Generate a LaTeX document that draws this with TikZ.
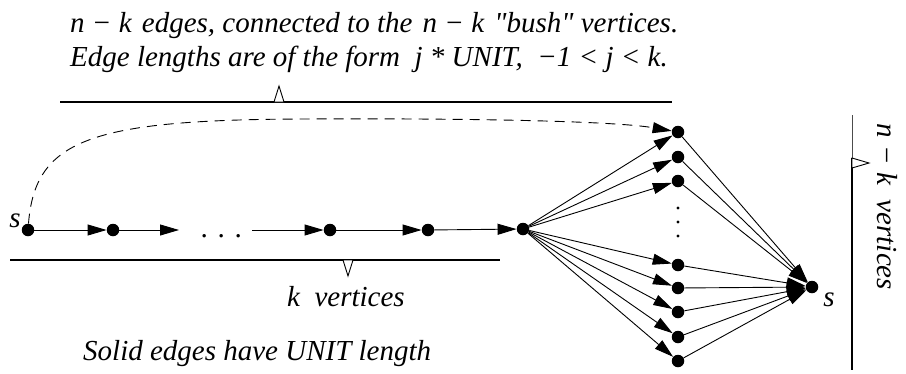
\documentclass[tikz,border=0pt]{standalone}
\usepackage{fontspec}
\setmainfont{Liberation Serif}[Ligatures=TeXOff]
\usetikzlibrary{arrows.meta}
\begin{document}
\begin{tikzpicture}[x=1pt,y=-1pt,
  vtx/.style={circle,fill=black,inner sep=0pt,minimum size=12.5pt},
  arr/.style={line width=0.9pt,-{Triangle[length=19pt,width=11pt]}},
  lbl/.style={font=\fontsize{29}{33}\selectfont\itshape,inner sep=0pt},
  bar/.style={line width=1.1pt},
  tri/.style={line width=0.9pt,fill=white,line join=miter}]
\useasboundingbox (0,0) rectangle (906,373);

% texts
\node[lbl,anchor=base west] (t1) at (70,32) {n − k\hspace{3pt} edges, connected to the\hspace{3pt} n − k\hspace{3pt} "bush" vertices.};
\node[lbl,anchor=base west] (t2) at (70,66) {Edge lengths are of the form\ \ j * UNIT,\ \ −1 < j < k.};
\node[lbl,anchor=base west] (kv) at (287,306) {k\ \ vertices};
\node[lbl,anchor=base west] (sol) at (83,360) {Solid edges have UNIT length};
\node[lbl,rotate=-90] (nkv) at (887,207) {n − k\ \ vertices};

% brackets
\draw[bar] (60,102) -- (672,102);
\draw[tri] (274,102) -- (279,86) -- (284,102) -- cycle;
\draw[bar] (10,260) -- (500,260);
\draw[tri] (343,260) -- (348,276) -- (353,260) -- cycle;
\draw[line width=0.8pt,black!70] (852,115) -- (852,158);
\draw[line width=1.6pt] (852,158) -- (852,370);
\draw[tri] (852,158) -- (869,163) -- (852,168) -- cycle;

% chain
\node[vtx] (s0) at (28,230) {};
\node[lbl] (sl) at (15,221) {s};
\node[vtx] (c1) at (113,230) {};
\coordinate (c1e) at (179,230);
\node[lbl,anchor=base] (dots) at (222,237) {. . .};
\coordinate (c3s) at (252,230);
\node[vtx] (c3) at (330,230) {};
\node[vtx] (c4) at (428,230) {};
\node[vtx] (c5) at (523,229) {};

\draw[arr] (s0) -- (c1);
\draw[arr] (c1) -- (c1e);
\draw[arr] (c3s) -- (c3);
\draw[arr] (c3) -- (c4);
\draw[arr] (c4) -- (c5);

% bush vertices
\foreach \i/\y in {1/132,2/157,3/181,4/265,5/288,6/312,7/337,8/361}{
  \node[vtx] (b\i) at (678,\y) {};
}
\foreach \y in {208,222,236}{
  \fill (678,\y) circle (1.6pt);
}
\node[vtx] (t) at (812,287) {};
\node[lbl] (tl) at (829,300) {s};

\foreach \i in {1,...,8}{
  \draw[arr] (c5) -- (b\i);
  \draw[arr] (b\i) -- (t);
}

% dashed edge
\draw[line width=0.9pt,dash pattern=on 10pt off 7pt,-{Triangle[length=19pt,width=11pt]}]
  (s0) .. controls (35,140) and (90,120) .. (300,119)
  .. controls (500,118) and (620,122) .. (b1);
\end{tikzpicture}
\end{document}
